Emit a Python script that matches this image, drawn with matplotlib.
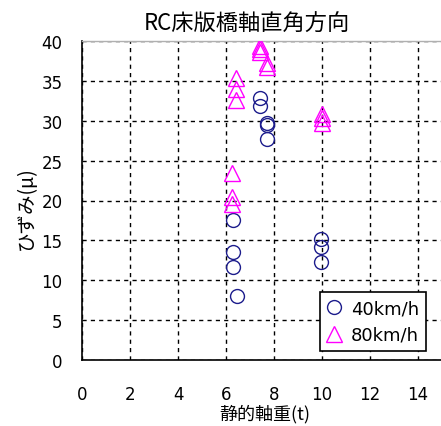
import matplotlib
matplotlib.use("Agg")
import matplotlib.pyplot as plt

plt.rcParams['font.family'] = ['Noto Sans CJK JP', 'DejaVu Sans']

# 40km/h 走行時の計測値 (静的軸重 t, ひずみ μ)
load_40 = [7.4, 7.4, 7.7, 7.7, 7.7, 6.3, 6.3, 6.3, 6.45, 9.95, 9.95, 9.95]
strain_40 = [32.8, 31.8, 29.7, 29.5, 27.7, 17.5, 13.5, 11.6, 8.0, 15.2, 14.2, 12.3]

# 80km/h 走行時の計測値
load_80 = [7.4, 7.4, 7.4, 7.7, 7.7, 6.42, 6.42, 6.42, 9.98, 9.98, 9.98, 6.27, 6.27, 6.27]
strain_80 = [39.4, 39.0, 38.6, 37.2, 36.7, 35.3, 34.0, 32.6, 30.9, 30.3, 29.7, 23.4, 20.4, 19.5]

x_ticks = [0, 2, 4, 6, 8, 10, 12, 14]
y_ticks = [0, 5, 10, 15, 20, 25, 30, 35, 40]

fig = plt.figure(figsize=(4.41, 4.27), dpi=100)
ax = fig.add_axes([82 / 441, 1 - 361 / 427, 360 / 441, 319 / 427])

ax.plot(load_40, strain_40, linestyle='none', marker='o', markersize=10,
        markerfacecolor='none', markeredgecolor='#1c1c8c', markeredgewidth=1.0,
        label='40km/h', zorder=3)
ax.plot(load_80, strain_80, linestyle='none', marker='^', markersize=11,
        markerfacecolor='none', markeredgecolor='#ff00ff', markeredgewidth=1.0,
        label='80km/h', zorder=3)

ax.set_xlim(0, 15)
ax.set_ylim(0, 40)
ax.set_xticks(x_ticks)
ax.set_yticks(y_ticks)
ax.set_xticklabels([str(v) for v in x_ticks], family='DejaVu Sans', fontsize=12)
ax.set_yticklabels([str(v) for v in y_ticks], family='DejaVu Sans', fontsize=12)
ax.tick_params(axis='x', length=0, pad=18)
ax.tick_params(axis='y', length=0, pad=14)

ax.grid(True, color='black', linestyle=(0, (3, 3)), linewidth=1.0)
ax.set_axisbelow(True)

ax.spines['right'].set_visible(False)
ax.spines['top'].set_color('#b0b0b0')
ax.spines['top'].set_linewidth(1.0)
ax.spines['left'].set_linewidth(1.2)
ax.spines['bottom'].set_linewidth(1.2)

leg = ax.legend(loc='lower left', bbox_to_anchor=(0.661, 0.028),
                fancybox=False, framealpha=1, edgecolor='black',
                prop={'family': 'DejaVu Sans', 'size': 13},
                handlelength=0.8, handletextpad=0.5, borderpad=0.4,
                labelspacing=0.45, borderaxespad=0)
leg.get_frame().set_linewidth(1.2)

fig.text(247 / 441, 1 - 24 / 427, 'RC床版橋軸直角方向', ha='center', va='center',
         fontsize=16)
fig.text(265 / 441, 1 - 414 / 427, '静的軸重(t)', ha='center', va='center',
         fontsize=13)
fig.text(26 / 441, 1 - 208 / 427, 'ひずみ(μ)', ha='center', va='center',
         rotation=90, fontsize=14)

fig.savefig('out.png', dpi=100)
